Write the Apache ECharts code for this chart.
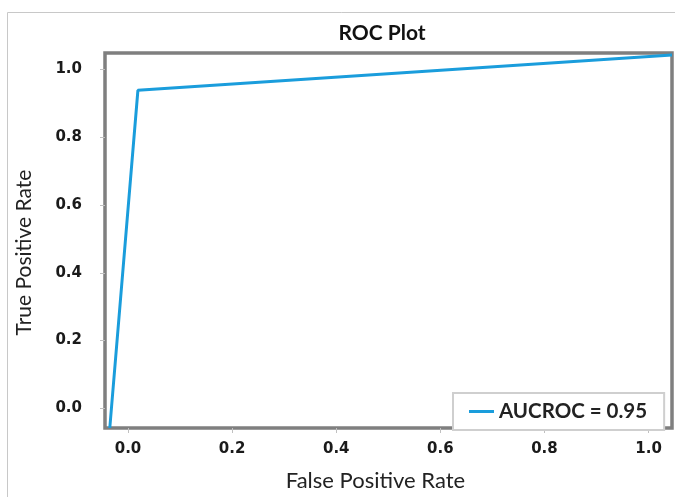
<!DOCTYPE html>
<html>
<head>
<meta charset="utf-8">
<script src="https://cdn.jsdelivr.net/npm/echarts@6/dist/echarts.min.js"></script>
<style>html,body{margin:0;padding:0;background:#fff;}#c{width:675px;height:497px;}</style>
</head>
<body>
<div id="c"></div>
<script>
const fpr = [-0.035, 0.019, 1.045];
const tpr = [-0.058, 0.939, 1.043];
const tickValues = [0, 0.2, 0.4, 0.6, 0.8, 1.0];
const seriesName = 'AUCROC = 0.95';

const chart = echarts.init(document.getElementById('c'));
const font = 'Lato, "Open Sans", sans-serif';
const tickFont = '"DejaVu Sans", Verdana, sans-serif';
chart.setOption({
  animation: false,
  backgroundColor: '#fff',
  graphic: [{
    type: 'rect', silent: true, z: -1,
    shape: {x: 7.5, y: 12.5, width: 700, height: 500},
    style: {fill: 'none', stroke: '#c8c8c8', lineWidth: 1}
  }],
  title: {
    text: 'ROC Plot', left: 377, top: 18, textAlign: 'center',
    textStyle: {fontFamily: font, fontSize: 21, fontWeight: 'bold', color: '#111'}
  },
  grid: {
    left: 105, right: 3, top: 53, bottom: 62,
    show: true, borderColor: '#7f7f7f', borderWidth: 3.5, backgroundColor: '#fff'
  },
  legend: {
    left: 453, top: 393,
    orient: 'horizontal',
    borderColor: '#cfcfcf', borderWidth: 2, padding: [8, 17, 8, 16],
    backgroundColor: '#fff',
    itemWidth: 25, itemHeight: 14, itemGap: 5,
    textStyle: {fontFamily: font, fontSize: 20.5, fontWeight: 'bold', color: '#222'},
    data: [{name: seriesName, icon: 'path://M0,6 L25,6 L25,9 L0,9 Z'}]
  },
  xAxis: {
    type: 'value', min: -0.0442, max: 1.045,
    name: 'False Positive Rate', nameLocation: 'middle', nameGap: 42,
    nameTextStyle: {fontFamily: font, fontSize: 22, color: '#222', padding: [0, 26, 0, 0]},
    axisLine: {show: false, onZero: false},
    splitLine: {show: false},
    axisTick: {show: true, customValues: tickValues, length: 5, lineStyle: {color: '#c0c0c0'}},
    axisLabel: {customValues: tickValues, margin: 14, fontFamily: tickFont, fontSize: 15, fontWeight: 'bold', color: '#1a1a1a',
      formatter: v => v.toFixed(1)}
  },
  yAxis: {
    type: 'value', min: -0.058, max: 1.049,
    name: 'True Positive Rate', nameLocation: 'middle', nameGap: 70,
    nameTextStyle: {fontFamily: font, fontSize: 21, color: '#222', padding: [0, 24, 0, 0]},
    axisLine: {show: false, onZero: false},
    splitLine: {show: false},
    axisTick: {show: true, customValues: tickValues, length: 5, lineStyle: {color: '#c0c0c0'}},
    axisLabel: {customValues: tickValues, margin: 23, fontFamily: tickFont, fontSize: 15, fontWeight: 'bold', color: '#1a1a1a',
      formatter: v => v.toFixed(1)}
  },
  series: [{
    name: seriesName,
    type: 'line',
    data: fpr.map((x, i) => [x, tpr[i]]),
    symbol: 'none',
    lineStyle: {color: '#1a9ddc', width: 3},
    itemStyle: {color: '#1a9ddc'},
    clip: true
  }]
});
</script>
</body>
</html>
